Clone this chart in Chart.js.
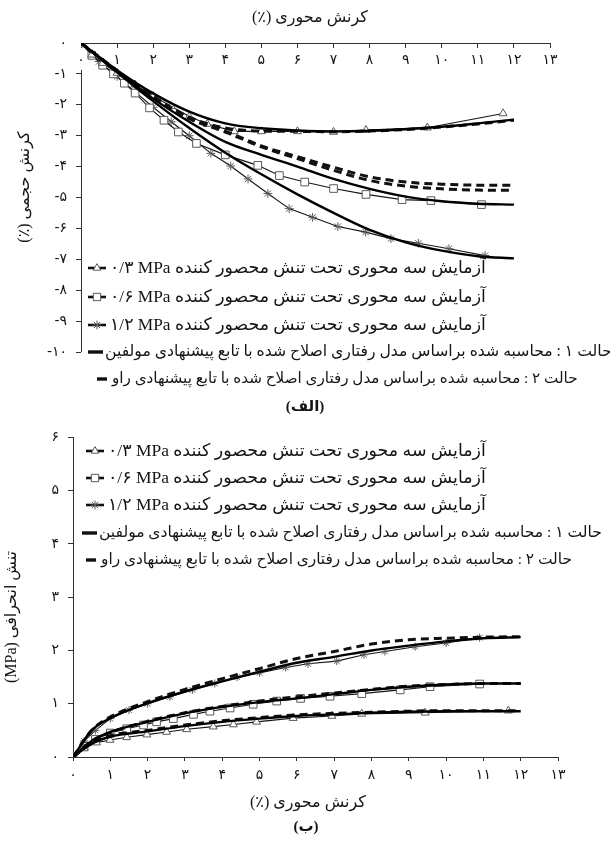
<!DOCTYPE html>
<html>
<head>
<meta charset="utf-8">
<script src="https://cdn.jsdelivr.net/npm/chart.js@4.4.1/dist/chart.umd.min.js"></script>
<style>
html, body { margin: 0; padding: 0; background: #fff; }
body { width: 610px; height: 845px; position: relative; overflow: hidden; }
canvas { position: absolute; left: 0; }
#volChart { top: 0; }
#devChart { top: 420px; }
</style>
</head>
<body>
<canvas id="volChart" width="610" height="420"></canvas>
<canvas id="devChart" width="610" height="425"></canvas>
<script>
// Persian digits for tick labels
const FA_DIGITS = ['۰', '۱', '۲', '۳', '۴', '۵', '۶', '۷', '۸', '۹'];
const faNum = v => String(v).replace(/\d/g, d => FA_DIGITS[+d]);

// ---------- (الف) volumetric strain vs axial strain ----------
const volModelStrain = [0, 1, 2, 3, 4, 5, 6, 7, 8, 9, 10, 11, 12];
const volCase1_03 = [0, -0.88, -1.63, -2.22, -2.6, -2.76, -2.83, -2.86, -2.84, -2.79, -2.71, -2.6, -2.48];
const volCase1_06 = [0, -0.92, -1.8, -2.55, -3.2, -3.62, -4.0, -4.4, -4.72, -4.97, -5.12, -5.2, -5.23];
const volCase1_12 = [0, -0.95, -1.88, -2.75, -3.55, -4.25, -4.9, -5.5, -6.05, -6.45, -6.72, -6.9, -6.97];
const volCase2_03 = [0, -0.9, -1.72, -2.4, -2.75, -2.85, -2.86, -2.87, -2.85, -2.8, -2.72, -2.62, -2.5];
const volCase2_06 = [0, -0.9, -1.75, -2.42, -2.85, -3.33, -3.68, -4.02, -4.33, -4.5, -4.57, -4.6, -4.6];
const volCase2_12 = [0, -0.9, -1.75, -2.45, -2.88, -3.36, -3.74, -4.12, -4.45, -4.63, -4.72, -4.76, -4.77];

const volTest03Strain = [0, 0.3, 0.6, 1.0, 1.5, 2.0, 2.5, 3.0, 3.5, 4.25, 5.0, 6.0, 7.0, 7.9, 9.6, 11.7];
const volTest03 = [0, -0.38, -0.65, -0.97, -1.35, -1.72, -2.05, -2.38, -2.62, -2.86, -2.86, -2.86, -2.88, -2.82, -2.74, -2.28];
const volTest06Strain = [0, 0.3, 0.6, 0.9, 1.2, 1.5, 1.9, 2.3, 2.7, 3.2, 4.0, 4.9, 5.5, 6.2, 7.0, 7.9, 8.9, 9.7, 11.1];
const volTest06 = [0, -0.4, -0.72, -1.0, -1.3, -1.62, -2.1, -2.5, -2.88, -3.25, -3.62, -3.96, -4.29, -4.5, -4.71, -4.9, -5.07, -5.1, -5.23];
const volTest12Strain = [0, 0.5, 1.0, 1.5, 2.0, 2.5, 3.0, 3.6, 4.15, 4.63, 5.18, 5.77, 6.42, 7.12, 7.89, 8.59, 9.35, 10.2, 11.2];
const volTest12 = [0, -0.6, -1.08, -1.58, -2.08, -2.55, -3.0, -3.57, -3.98, -4.4, -4.87, -5.36, -5.64, -5.94, -6.12, -6.33, -6.48, -6.66, -6.88];

// ---------- (ب) deviatoric stress vs axial strain ----------
const devModelStrain = [0, 0.5, 1, 2, 3, 4, 5, 6, 7, 8, 9, 10, 11, 12];
const devCase1_03 = [0, 0.25, 0.38, 0.48, 0.58, 0.66, 0.72, 0.77, 0.8, 0.83, 0.85, 0.86, 0.86, 0.86];
const devCase1_06 = [0, 0.3, 0.47, 0.66, 0.82, 0.94, 1.03, 1.1, 1.18, 1.26, 1.32, 1.36, 1.38, 1.38];
const devCase1_12 = [0, 0.5, 0.73, 1.01, 1.23, 1.42, 1.6, 1.77, 1.88, 2.0, 2.09, 2.17, 2.23, 2.25];
const devCase2_03 = [0, 0.26, 0.4, 0.5, 0.6, 0.68, 0.74, 0.79, 0.82, 0.84, 0.86, 0.87, 0.87, 0.87];
const devCase2_06 = [0, 0.3, 0.46, 0.67, 0.83, 0.95, 1.05, 1.13, 1.2, 1.27, 1.33, 1.36, 1.38, 1.38];
const devCase2_12 = [0, 0.5, 0.75, 1.04, 1.27, 1.47, 1.66, 1.85, 1.98, 2.12, 2.2, 2.23, 2.25, 2.26];

const devTest03Strain = [0, 0.3, 0.63, 0.99, 1.44, 1.98, 2.51, 3.05, 3.76, 4.3, 4.92, 5.9, 6.94, 7.74, 9.44, 11.67];
const devTest03 = [0, 0.16, 0.27, 0.32, 0.37, 0.42, 0.47, 0.52, 0.57, 0.61, 0.66, 0.73, 0.77, 0.81, 0.83, 0.87];
const devTest06Strain = [0, 0.3, 0.6, 1.0, 1.44, 1.89, 2.24, 2.69, 3.23, 3.67, 4.21, 4.83, 5.46, 6.1, 6.89, 7.74, 8.77, 9.57, 10.9];
const devTest06 = [0, 0.2, 0.33, 0.45, 0.53, 0.6, 0.66, 0.72, 0.8, 0.86, 0.92, 0.99, 1.05, 1.1, 1.14, 1.19, 1.26, 1.32, 1.37];
const devTest12Strain = [0, 0.3, 0.6, 1.0, 1.5, 2.0, 2.6, 3.2, 3.8, 4.4, 5.0, 5.7, 6.3, 7.07, 7.8, 8.36, 9.17, 10.0, 10.9];
const devTest12 = [0, 0.3, 0.5, 0.72, 0.88, 1.0, 1.13, 1.26, 1.38, 1.5, 1.58, 1.68, 1.75, 1.8, 1.92, 1.98, 2.07, 2.14, 2.24];

// ---------- shared texts ----------
const legendLabels = [
  'آزمایش سه محوری تحت تنش محصور کننده MPa \u200F۰/۳',
  'آزمایش سه محوری تحت تنش محصور کننده MPa \u200F۰/۶',
  'آزمایش سه محوری تحت تنش محصور کننده MPa \u200F۱/۲',
  'حالت ۱ : محاسبه شده براساس مدل رفتاری اصلاح شده با تابع پیشنهادی مولفین',
  'حالت ۲ : محاسبه شده براساس مدل رفتاری اصلاح شده با تابع پیشنهادی راو'
];
const axialTitle = 'کرنش محوری (٪)';
const volTitle = 'کرنش حجمی (٪)';
const devTitle = 'تنش انحرافی (MPa)';

const TEXT_FAMILY = "'Liberation Serif', 'DejaVu Sans', serif";
const TICK_FONT = { family: "'DejaVu Sans', sans-serif", size: 14 };
const INK = '#151515';

const pts = (xs, ys) => xs.map((x, i) => ({ x, y: ys[i] }));

function testSet(xs, ys, style, radius) {
  return {
    data: pts(xs, ys), borderColor: '#151515', borderWidth: 1.1, tension: 0,
    pointStyle: style, pointRadius: radius, pointBackgroundColor: '#fff',
    pointBorderColor: '#5a5a5a', pointBorderWidth: 1, order: 2
  };
}
function case1Set(xs, ys) {
  return { data: pts(xs, ys), borderColor: '#000', borderWidth: 2.4, pointRadius: 0,
           cubicInterpolationMode: 'monotone', order: 0 };
}
function case2Set(xs, ys) {
  return { data: pts(xs, ys), borderColor: '#111', borderWidth: 3, borderDash: [8, 5],
           pointRadius: 0, cubicInterpolationMode: 'monotone', order: 1 };
}

function fitFont(ctx, text, width, base, weight) {
  ctx.font = `${weight} ${base}px ${TEXT_FAMILY}`;
  const w = ctx.measureText(text).width || 1;
  const s = Math.max(9, Math.min(20, base * width / w));
  return `${weight} ${s.toFixed(2)}px ${TEXT_FAMILY}`;
}

// free-standing captions and axis titles
function captionPlugin(items) {
  return {
    id: 'captions',
    afterDraw(chart) {
      const ctx = chart.ctx;
      items.forEach(it => {
        ctx.save();
        ctx.translate(it.x, it.y);
        if (it.rotate) ctx.rotate(it.rotate);
        ctx.direction = 'rtl';
        ctx.textAlign = 'center';
        ctx.textBaseline = 'middle';
        ctx.fillStyle = INK;
        ctx.font = `${it.bold ? 'bold' : 'normal'} ${it.size}px ${TEXT_FAMILY}`;
        ctx.fillText(it.text, 0, 0);
        ctx.restore();
      });
    }
  };
}

function drawMarker(ctx, style, x, y, r) {
  ctx.save();
  ctx.fillStyle = '#fff';
  ctx.strokeStyle = '#5a5a5a';
  ctx.lineWidth = 1;
  Chart.helpers.drawPoint(ctx, { pointStyle: style, rotation: 0, radius: r, borderWidth: 1 }, x, y);
  ctx.restore();
}

// legend: sample on the left, right-to-left text after it
function legendPlugin(rows) {
  return {
    id: 'rtlLegend',
    afterDraw(chart) {
      const ctx = chart.ctx;
      rows.forEach((row, i) => {
        ctx.save();
        ctx.strokeStyle = '#111';
        ctx.lineCap = 'butt';
        if (row.kind === 'test') {
          ctx.lineWidth = 2.6;
          ctx.beginPath(); ctx.moveTo(row.s0, row.y); ctx.lineTo(row.s1, row.y); ctx.stroke();
          drawMarker(ctx, row.style, (row.s0 + row.s1) / 2, row.y, row.r);
        } else {
          ctx.lineWidth = 3.4;
          ctx.beginPath(); ctx.moveTo(row.s0, row.y); ctx.lineTo(row.s1, row.y); ctx.stroke();
        }
        ctx.direction = 'rtl';
        ctx.textAlign = 'left';
        ctx.textBaseline = 'middle';
        ctx.fillStyle = INK;
        const text = legendLabels[i];
        ctx.font = fitFont(ctx, text, row.t1 - row.t0, 14, 'normal');
        ctx.fillText(text, row.t0, row.y);
        ctx.restore();
      });
    }
  };
}

// volumetric axis line runs from -1 downwards
const partialAxisPlugin = {
  id: 'partialAxis',
  afterDraw(chart) {
    const { ctx, chartArea, scales } = chart;
    const x = Math.round(chartArea.left) + 0.5;
    ctx.save();
    ctx.strokeStyle = '#333';
    ctx.lineWidth = 1;
    ctx.beginPath();
    ctx.moveTo(x, scales.y.getPixelForValue(-1) - 4);
    ctx.lineTo(x, chartArea.bottom);
    ctx.stroke();
    ctx.restore();
  }
};

function baseOptions(padding) {
  return {
    responsive: false, animation: false, events: [],
    layout: { padding },
    plugins: { legend: { display: false }, tooltip: { enabled: false }, title: { display: false } }
  };
}

// ---------- chart (الف) ----------
const volOptions = baseOptions({ top: 43, right: 60, bottom: 68, left: 0 });
volOptions.scales = {
  x: {
    type: 'linear', min: 0, max: 13, position: { y: 0 },
    ticks: { stepSize: 1, autoSkip: false, maxRotation: 0, padding: 5, color: INK, font: TICK_FONT,
             callback: v => faNum(v) },
    grid: { display: true, drawOnChartArea: false, drawTicks: true, tickLength: 4, color: '#333' },
    border: { display: true, color: '#333', width: 1 }
  },
  y: {
    type: 'linear', min: -10, max: 0,
    afterFit: s => { s.width = 81; },
    ticks: { stepSize: 1, padding: 9, color: INK, font: TICK_FONT, callback: v => faNum(v) },
    grid: { display: true, drawOnChartArea: false, drawTicks: true, tickLength: 5,
            color: ctx => (ctx.tick && ctx.tick.value === 0 ? 'rgba(0,0,0,0)' : '#333') },
    border: { display: false }
  }
};

new Chart(document.getElementById('volChart'), {
  type: 'line',
  data: {
    datasets: [
      testSet(volTest03Strain, volTest03, 'triangle', 4.6),
      testSet(volTest06Strain, volTest06, 'rect', 5.4),
      testSet(volTest12Strain, volTest12, 'star', 4.4),
      case1Set(volModelStrain, volCase1_03),
      case1Set(volModelStrain, volCase1_06),
      case1Set(volModelStrain, volCase1_12),
      case2Set(volModelStrain, volCase2_03),
      case2Set(volModelStrain, volCase2_06),
      case2Set(volModelStrain, volCase2_12)
    ]
  },
  options: volOptions,
  plugins: [
    partialAxisPlugin,
    legendPlugin([
      { kind: 'test', style: 'triangle', r: 4.4, s0: 88, s1: 106, t0: 110, t1: 486, y: 268 },
      { kind: 'test', style: 'rect', r: 5.2, s0: 88, s1: 106, t0: 110, t1: 486, y: 297 },
      { kind: 'test', style: 'star', r: 4.4, s0: 88, s1: 106, t0: 110, t1: 486, y: 325 },
      { kind: 'line', s0: 88, s1: 103, t0: 105, t1: 612, y: 352 },
      { kind: 'line', s0: 97, s1: 107, t0: 112, t1: 578, y: 379 }
    ]),
    captionPlugin([
      { text: axialTitle, x: 310, y: 18, size: 16 },
      { text: volTitle, x: 25, y: 187, size: 16, rotate: -Math.PI / 2 },
      { text: '(الف)', x: 305, y: 407, size: 15, bold: true }
    ])
  ]
});

// ---------- chart (ب) ----------
const devOptions = baseOptions({ top: 17, right: 52, bottom: 58, left: 0 });
devOptions.scales = {
  x: {
    type: 'linear', min: 0, max: 13, position: 'bottom',
    afterFit: s => { s.height = 30; },
    ticks: { stepSize: 1, autoSkip: false, maxRotation: 0, padding: 6, color: INK, font: TICK_FONT,
             callback: v => faNum(v) },
    grid: { display: true, drawOnChartArea: false, drawTicks: true, tickLength: 4, color: '#333' },
    border: { display: true, color: '#333', width: 1 }
  },
  y: {
    type: 'linear', min: 0, max: 6,
    afterFit: s => { s.width = 73; },
    ticks: { stepSize: 1, padding: 9, color: INK, font: TICK_FONT, callback: v => faNum(v) },
    grid: { display: true, drawOnChartArea: false, drawTicks: true, tickLength: 5, color: '#333' },
    border: { display: true, color: '#333', width: 1 }
  }
};

new Chart(document.getElementById('devChart'), {
  type: 'line',
  data: {
    datasets: [
      testSet(devTest03Strain, devTest03, 'triangle', 4.6),
      testSet(devTest06Strain, devTest06, 'rect', 5.4),
      testSet(devTest12Strain, devTest12, 'star', 4.0),
      case1Set(devModelStrain, devCase1_03),
      case1Set(devModelStrain, devCase1_06),
      case1Set(devModelStrain, devCase1_12),
      case2Set(devModelStrain, devCase2_03),
      case2Set(devModelStrain, devCase2_06),
      case2Set(devModelStrain, devCase2_12)
    ]
  },
  options: devOptions,
  plugins: [
    legendPlugin([
      { kind: 'test', style: 'triangle', r: 4.4, s0: 86, s1: 104, t0: 108, t1: 486, y: 31 },
      { kind: 'test', style: 'rect', r: 5.2, s0: 86, s1: 104, t0: 108, t1: 486, y: 58 },
      { kind: 'test', style: 'star', r: 4.4, s0: 86, s1: 104, t0: 108, t1: 486, y: 85 },
      { kind: 'line', s0: 82, s1: 97, t0: 99, t1: 602, y: 113 },
      { kind: 'line', s0: 86, s1: 96, t0: 101, t1: 572, y: 140 }
    ]),
    captionPlugin([
      { text: axialTitle, x: 308, y: 383, size: 16 },
      { text: '(ب)', x: 306, y: 407, size: 15, bold: true },
      { text: devTitle, x: 12, y: 197, size: 16, rotate: -Math.PI / 2 }
    ])
  ]
});
</script>
</body>
</html>
